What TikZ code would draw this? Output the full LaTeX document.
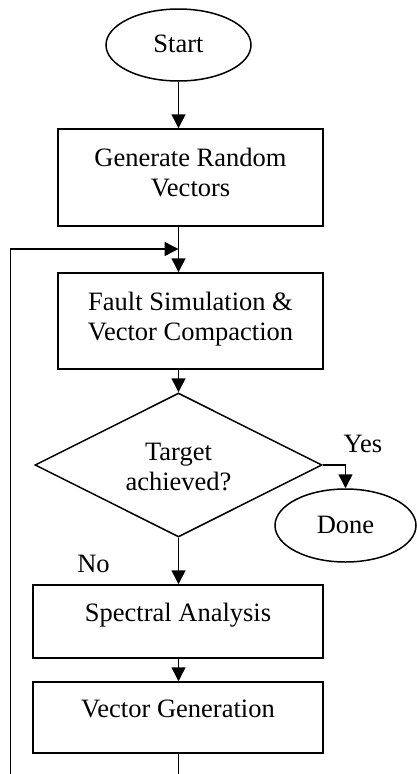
\documentclass[tikz,border=0pt]{standalone}
\usepackage{fontspec}
\setmainfont{Liberation Serif}
\usetikzlibrary{arrows.meta,shapes.geometric}
\begin{document}
\begin{tikzpicture}[x=1pt,y=-1pt,
  every node/.style={font=\fontsize{26.5}{30}\selectfont, line width=1.5pt},
  box/.style={draw, rectangle, align=center, inner sep=0pt},
  ell/.style={draw, ellipse, inner sep=0pt},
  dia/.style={draw, diamond, aspect=2, align=center, inner sep=0pt,
              minimum width=287pt, minimum height=144pt, text height=50pt, text depth=0pt},
  lbl/.style={inner sep=0pt},
  conn/.style={line width=1.5pt, -{Triangle[length=14pt,width=14pt]}},
  plain/.style={line width=1.5pt}
]
\useasboundingbox (0,0) rectangle (416,774);

\node[ell, minimum width=145pt, minimum height=72pt, text height=18pt, text depth=2.5pt] (start) at (178.5,45) {Start};
\node[box, minimum width=265pt, minimum height=97pt, text height=48pt, text depth=11pt] (gen) at (190.5,177.5) {Generate Random\\Vectors};
\node[box, minimum width=265pt, minimum height=96pt, text height=48pt, text depth=10pt] (fault) at (190.5,321) {Fault Simulation \&\\Vector Compaction};
\node[dia] (target) at (178.5,465) {Target\\achieved?};
\node[ell, minimum width=141pt, minimum height=73pt, text height=18pt, text depth=2pt] (done) at (345.5,525.5) {Done};
\node[box, minimum width=290pt, minimum height=73pt, text height=18pt, text depth=19pt] (spec) at (178,621.5) {Spectral Analysis};
\node[box, minimum width=290pt, minimum height=71pt, text height=18pt, text depth=19pt] (vg) at (178,717.5) {Vector Generation};

\node[lbl] (yes) at (363,443.5) {Yes};
\node[lbl] (no) at (93.5,563.5) {No};

\coordinate (join) at (178.5,249);
\coordinate (bl) at (10.5,775);
\coordinate (bc) at (178.5,775);

\draw[conn] (start.south) -- (start.south |- gen.north);
\draw[conn] (start.south |- gen.south) -- (start.south |- fault.north);
\draw[conn] (bl) |- (join);
\draw[conn] (start.south |- fault.south) -- (target.north);
\draw[conn] (target.east) -| (done.north);
\draw[conn] (target.south) -- (target.south |- spec.north);
\draw[conn] (target.south |- spec.south) -- (target.south |- vg.north);
\draw[plain] (target.south |- vg.south) -- (bc);
\end{tikzpicture}
\end{document}
